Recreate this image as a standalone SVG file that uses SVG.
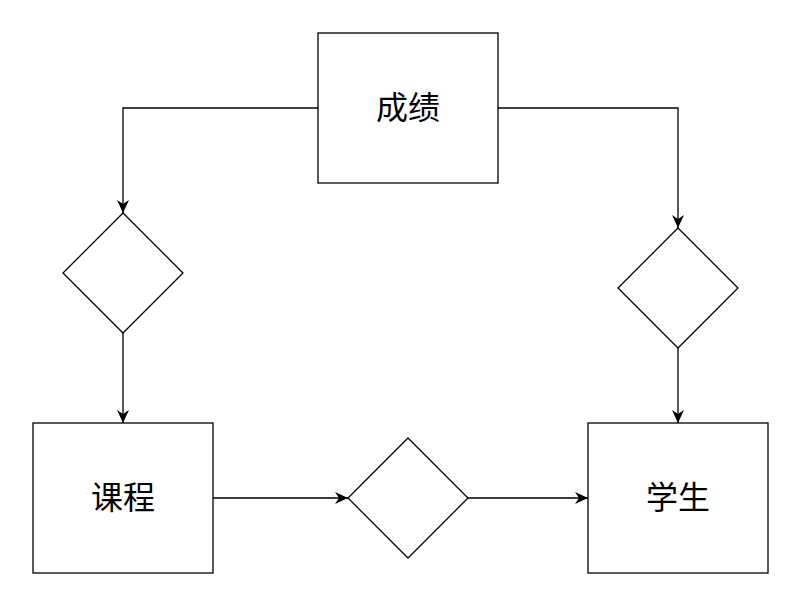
<svg xmlns="http://www.w3.org/2000/svg" width="788" height="608" viewBox="0 0 788 608">
<style>
.n{fill:#fff;stroke:#000;stroke-width:1.3}
.t{font-family:"Noto Sans CJK SC","Noto Sans",sans-serif;font-size:32px;fill:#000;text-anchor:middle;dominant-baseline:central}
.c{fill:none;stroke:#000;stroke-width:1.3;marker-end:url(#a)}
</style>
<defs>
<marker id="a" viewBox="0 0 14 13" refX="13" refY="6.5" markerWidth="14" markerHeight="13" markerUnits="userSpaceOnUse" orient="auto">
<path d="M0,0.5 L13,6.5 L0,12.5 L4,6.5 Z" fill="#000"/>
</marker>
</defs>
<rect width="788" height="608" fill="#fff"/>
<g id="connectors">
<path class="c" d="M318,108 H123 V213"/>
<path class="c" d="M498,108 H678 V228"/>
<path class="c" d="M123,333 V423"/>
<path class="c" d="M678,348 V423"/>
<path class="c" d="M213,498 H348"/>
<path class="c" d="M468,498 H588"/>
</g>
<g id="chengji"><rect class="n" x="318" y="33" width="180" height="150"/><text class="t" x="408" y="105">成绩</text></g>
<g id="kecheng"><rect class="n" x="33" y="423" width="180" height="150"/><text class="t" x="123" y="495">课程</text></g>
<g id="xuesheng"><rect class="n" x="588" y="423" width="180" height="150"/><text class="t" x="678" y="495">学生</text></g>
<g id="d1"><path class="n" d="M123,213 L183,273 L123,333 L63,273 Z"/></g>
<g id="d2"><path class="n" d="M678,228 L738,288 L678,348 L618,288 Z"/></g>
<g id="d3"><path class="n" d="M408,438 L468,498 L408,558 L348,498 Z"/></g>
</svg>
